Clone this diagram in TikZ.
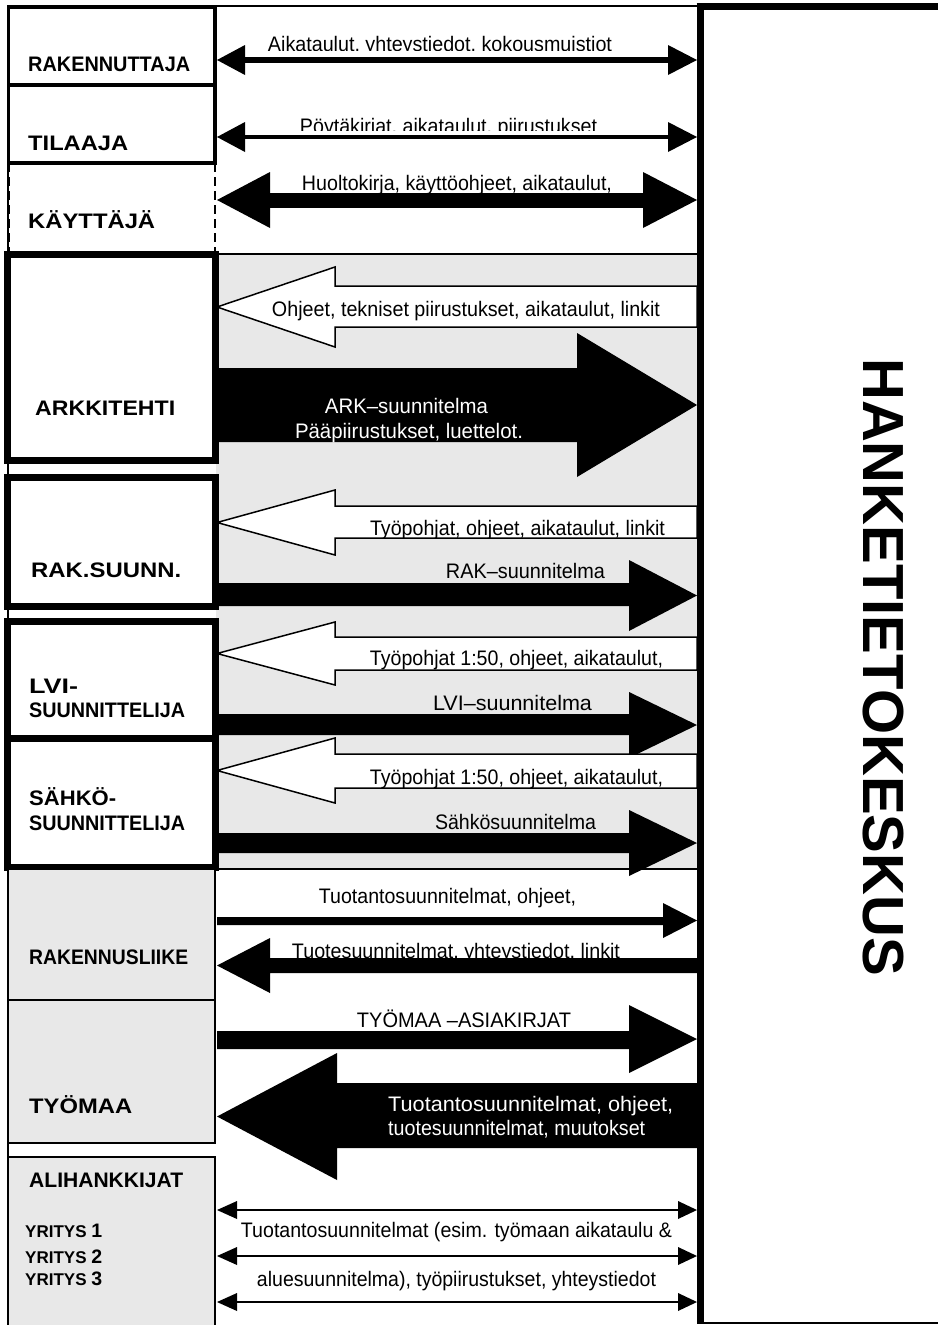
\documentclass[tikz,border=0pt]{standalone}
\usepackage{fontspec}
\setmainfont{Liberation Sans}
\definecolor{bg}{RGB}{232,232,232}
\tikzset{
  lab/.style={font=\fontsize{21}{24}\selectfont\bfseries, anchor=base west, inner sep=0pt},
  atxt/.style={font=\fontsize{21}{25}\selectfont, anchor=base, inner sep=0pt},
  wtxt/.style={atxt, text=white},
  framebox/.style={draw=black, line width=3.5pt},
  thickbox/.style={draw=black, line width=7pt, fill=white},
  graybox/.style={draw=black, line width=2pt, fill=bg},
  thinline/.style={draw=black, line width=1.5pt},
  blk/.style={fill=black},
  hollow/.style={fill=white, draw=black, line width=1.5pt, line join=miter},
}
\newcommand\tw[2]{\resizebox{#1pt}{\height}{#2}}
\newcommand\RArr[6][blk]{\path[#1] (217,#2) -- (#6,#2) -- (#6,#4) -- (697,{(#4+#5)/2}) -- (#6,#5) -- (#6,#3) -- (217,#3) -- cycle;}
\newcommand\LArr[6][blk]{\path[#1] (697,#2) -- (#6,#2) -- (#6,#4) -- (217,{(#4+#5)/2}) -- (#6,#5) -- (#6,#3) -- (697,#3) -- cycle;}
\newcommand\DArr[5]{%
  \draw[line width=#2] (#4,#1) -- (#5,#1);
  \fill (217,#1) -- (#4,{#1-#3}) -- (#4,{#1+#3}) -- cycle;
  \fill (697,#1) -- (#5,{#1-#3}) -- (#5,{#1+#3}) -- cycle;}
\begin{document}
\begin{tikzpicture}[x=1pt,y=-1pt]
\useasboundingbox (0,0) rectangle (937,1325);
\fill[white] (0,0) rectangle (937,1325);
% background zone and frame lines
\fill[bg] (216,254) rectangle (700,869);
\draw[thinline] (8,6) -- (700,6);
\draw[thinline] (216,254) -- (700,254);
\draw[thinline] (216,869) -- (700,869);
\draw[thinline] (8,6) -- (8,1325);

% rows 1-3 double arrows
\DArr{60}{6pt}{15}{245}{668}
\DArr{137}{4pt}{15}{245}{668}
\DArr{200}{15pt}{28}{270}{643}

% ARK
\LArr[hollow]{286}{327}{267}{347}{335}
\RArr{368}{442}{333}{477}{577}
% RAK
\LArr[hollow]{506}{538}{490}{555}{335}
\RArr{583}{606}{560}{631}{629}
% LVI
\LArr[hollow]{637}{670}{622}{685}{335}
\RArr{714}{735}{692}{758}{629}
% SAHKO
\LArr[hollow]{754}{788}{738}{803}{335}
\RArr{833}{853}{810}{876}{629}
% RAKENNUSLIIKE
\RArr{917}{925}{903}{938}{663}
\LArr{958}{973}{938}{993}{270}
% TYOMAA
\RArr{1031}{1049}{1005}{1073}{629}
\LArr{1083}{1148}{1053}{1180}{337}
% ALIHANKKIJAT
\DArr{1210}{2.5pt}{9}{237}{678}
\DArr{1256}{2.5pt}{9}{237}{678}
\DArr{1302}{2.5pt}{9}{237}{678}

% arrow texts
\begin{scope}\clip (216,0) rectangle (697,50);
\node[atxt] (t1) at (440,51) {\tw{344}{Aikataulut, yhteystiedot, kokousmuistiot}};
\end{scope}
\begin{scope}\clip (216,100) rectangle (697,130);
\node[atxt] (t2) at (448.5,133) {\tw{297}{Pöytäkirjat, aikataulut, piirustukset}};
\end{scope}
\node[atxt] (t3) at (457,190) {\tw{310}{Huoltokirja, käyttöohjeet, aikataulut,}};
\node[atxt] (t4) at (466,316) {\tw{388}{Ohjeet, tekniset piirustukset, aikataulut, linkit}};
\node[wtxt] (t5) at (406.5,413) {\tw{163}{ARK–suunnitelma}};
\begin{scope}\clip (216,415) rectangle (697,442);
\node[wtxt] (t6) at (409,438) {\tw{228}{Pääpiirustukset, luettelot.}};
\end{scope}
\begin{scope}\clip (216,500) rectangle (697,537.2);
\node[atxt] (t7) at (517.5,535) {\tw{295}{Työpohjat, ohjeet, aikataulut, linkit}};
\end{scope}
\node[atxt] (t8) at (525.5,578) {\tw{159}{RAK–suunnitelma}};
\begin{scope}\clip (216,630) rectangle (697,669.2);
\node[atxt] (t9) at (516.5,665) {\tw{293}{Työpohjat 1:50, ohjeet, aikataulut,}};
\end{scope}
\node[atxt] (t10) at (512.5,710) {\tw{159}{LVI–suunnitelma}};
\begin{scope}\clip (216,750) rectangle (697,787.2);
\node[atxt] (t11) at (516.5,784) {\tw{293}{Työpohjat 1:50, ohjeet, aikataulut,}};
\end{scope}
\node[atxt] (t12) at (515.5,829) {\tw{161}{Sähkösuunnitelma}};
\node[atxt] (t13) at (447.5,903) {\tw{257}{Tuotantosuunnitelmat, ohjeet,}};
\begin{scope}\clip (216,930) rectangle (697,958);
\node[atxt] (t14) at (456,958) {\tw{328}{Tuotesuunnitelmat, yhteystiedot, linkit}};
\end{scope}
\node[atxt] (t15) at (464,1027) {\tw{214}{TYÖMAA –ASIAKIRJAT}};
\node[wtxt, anchor=base west] (t16) at (388,1111) {\tw{285}{Tuotantosuunnitelmat, ohjeet,}};
\node[wtxt, anchor=base west] (t16b) at (388,1135) {\tw{257}{tuotesuunnitelmat, muutokset}};
\node[atxt] (t17) at (456.5,1237) {\tw{431}{Tuotantosuunnitelmat (esim. työmaan aikataulu \&}};
\node[atxt] (t18) at (456.5,1286) {\tw{399}{aluesuunnitelma), työpiirustukset, yhteystiedot}};

% left boxes
\draw[framebox] (8.5,7) rectangle (215,85);
\draw[framebox] (8.5,85) rectangle (215,163);
\draw[line width=2.5pt, dash pattern=on 9pt off 5pt] (8.5,163) -- (8.5,254) (215,163) -- (215,254);
\draw[thickbox] (7,254) rectangle (215,460);
\draw[thickbox] (7,477) rectangle (215,606);
\draw[thickbox] (7,621) rectangle (215,738);
\draw[thickbox] (7,738) rectangle (215,867);
\draw[graybox] (8,869) rectangle (215,1000);
\draw[graybox] (8,1000) rectangle (215,1143);
\draw[graybox] (8,1157) rectangle (215,1340);

% labels
\node[lab] (rakennuttaja) at (28,71) {\tw{162}{RAKENNUTTAJA}};
\node[lab] (tilaaja) at (28,150) {\tw{100}{TILAAJA}};
\node[lab] (kayttaja) at (28,228) {\tw{127}{KÄYTTÄJÄ}};
\node[lab] (arkkitehti) at (35,415) {\tw{140}{ARKKITEHTI}};
\node[lab] (raksuunn) at (31,577) {\tw{150}{RAK.SUUNN.}};
\node[lab] (lvi) at (29,693) {\tw{49}{LVI-}};
\node[lab] (lvisuun) at (29,717) {\tw{156}{SUUNNITTELIJA}};
\node[lab] (sahko) at (29,805) {\tw{87}{SÄHKÖ-}};
\node[lab] (sahkosuun) at (29,830) {\tw{156}{SUUNNITTELIJA}};
\node[lab] (rakliike) at (29,964) {\tw{159}{RAKENNUSLIIKE}};
\node[lab] (tyomaa) at (29,1113) {\tw{103}{TYÖMAA}};
\node[lab] (ali) at (29,1187) {\tw{154}{ALIHANKKIJAT}};
\node[lab] (y1) at (25,1237) {\fontsize{17}{20}\selectfont YRITYS \fontsize{19.5}{22}\selectfont 1};
\node[lab] (y2) at (25,1263) {\fontsize{17}{20}\selectfont YRITYS \fontsize{19.5}{22}\selectfont 2};
\node[lab] (y3) at (25,1285) {\fontsize{17}{20}\selectfont YRITYS \fontsize{19.5}{22}\selectfont 3};

% right frame
\draw[line width=7pt] (696.5,6.5) -- (945,6.5);
\draw[line width=7pt] (700,3) -- (700,1324);
\draw[line width=2pt] (700,1323) -- (945,1323);
\node[rotate=-90, font=\fontsize{58}{60}\selectfont\bfseries, inner sep=0pt] (hk) at (883.5,667) {HANKETIETOKESKUS};
\end{tikzpicture}
\end{document}
